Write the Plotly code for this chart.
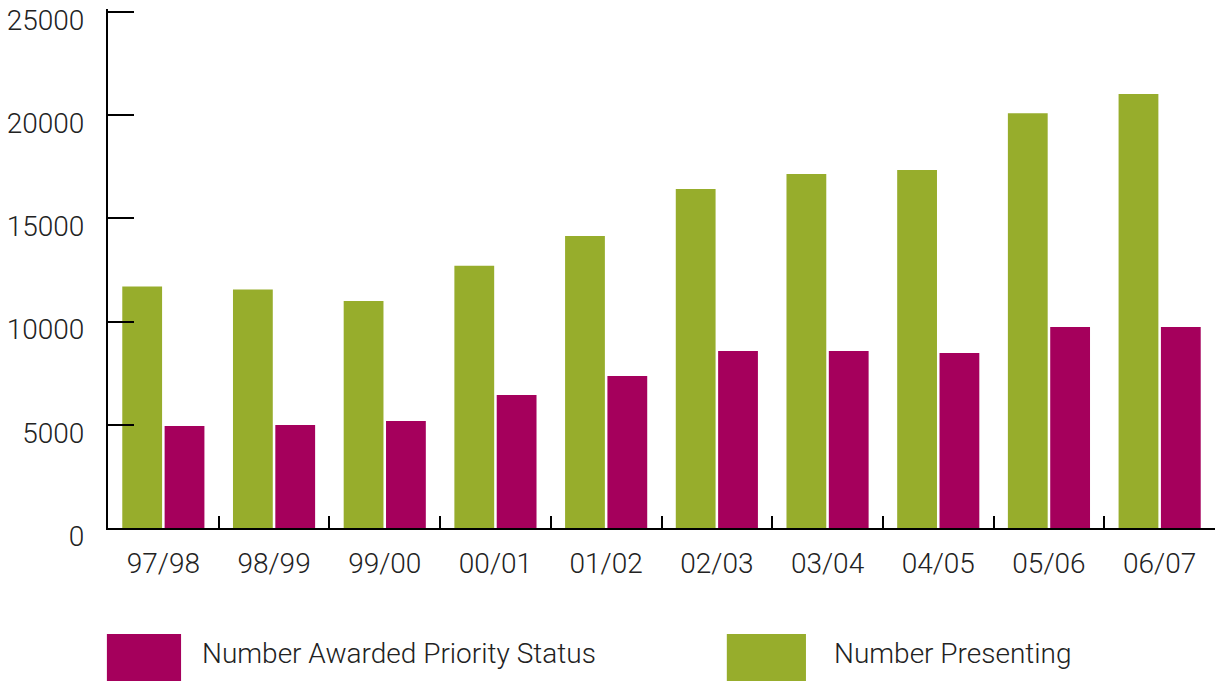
import plotly.graph_objects as go

categories = ["97/98", "98/99", "99/00", "00/01", "01/02", "02/03", "03/04", "04/05", "05/06", "06/07"]
presenting = [11700, 11550, 11000, 12700, 14150, 16420, 17150, 17350, 20100, 21030]
awarded = [4940, 4990, 5180, 6440, 7360, 8575, 8575, 8480, 9740, 9740]
series_names = ["Number Awarded Priority Status", "Number Presenting"]
tick_vals = [0, 5000, 10000, 15000, 20000, 25000]
tick_text = ["0", "5000", "10000", "15000", "20000", "25000"]

GREEN = "#97AD2C"
MAGENTA = "#A5005C"
FONT = "Roboto"
FS = 28

fig = go.Figure()
fig.add_trace(go.Bar(x=categories, y=presenting, name=series_names[1], marker_color=GREEN,
                     marker_line_width=0, showlegend=False))
fig.add_trace(go.Bar(x=categories, y=awarded, name=series_names[0], marker_color=MAGENTA,
                     marker_line_width=0, showlegend=False))

fig.update_layout(
    width=1217, height=682,
    margin=dict(l=108, r=2, t=9, b=154),
    paper_bgcolor="white", plot_bgcolor="white",
    barmode="group", bargap=0.235, bargroupgap=0.06,
    font=dict(family=FONT, size=FS, color="#222222", weight=300),
    xaxis=dict(
        type="category", showline=True, linecolor="black", linewidth=2,
        ticks="inside", tickson="boundaries", ticklen=12, tickwidth=2, tickcolor="black",
        showgrid=False, tickfont=dict(size=FS, family=FONT, weight=300), ticklabelstandoff=9,
    ),
    yaxis=dict(
        range=[0, 25145], tickvals=tick_vals, ticktext=tick_text, showline=True,
        linecolor="black", linewidth=2,
        ticks="inside", ticklen=26, tickwidth=2, tickcolor="black",
        showgrid=False, zeroline=False, tickfont=dict(size=FS, family=FONT, weight=300),
        ticklabelstandoff=16, ticklabelshift=8,
    ),
)

# Legend drawn as large swatches with text below the plot
# plot area height = 682 - 9 - 154 = 519 px, width = 1217 - 108 - 2 = 1107 px
H = 519.0
def py(page_y):
    return (528 - page_y) / H

legend_items = [
    (series_names[0], MAGENTA, -0.001, 0.066, 0.0831),
    (series_names[1], GREEN, 0.559, 0.6305, 0.654),
]
for name, color, x0, x1, tx in legend_items:
    fig.add_shape(type="rect", xref="paper", yref="paper", x0=x0, x1=x1, y0=py(681), y1=py(634),
                  fillcolor=color, line_width=0)
    fig.add_annotation(text=name, xref="paper", yref="paper", x=tx, y=py(653),
                       xanchor="left", yanchor="middle", showarrow=False,
                       font=dict(size=FS, family=FONT, color="#222222", weight=300))

fig.write_html("out.html", config={"displayModeBar": False},
               post_script="document.body.style.margin='0px';")
